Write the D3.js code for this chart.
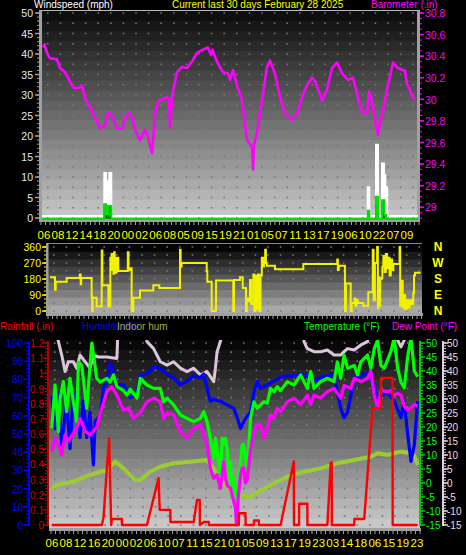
<!DOCTYPE html>
<html><head><meta charset="utf-8">
<script src="https://cdn.jsdelivr.net/npm/d3@7/dist/d3.min.js"></script>
<style>
html,body{margin:0;padding:0;background:#000;}
svg{display:block;}
text{font-family:"Liberation Sans",Arial,sans-serif;}
</style></head>
<body><svg id="chart" width="466" height="555"></svg>
<script>
// ---------------- DATA ----------------
const chartTitle = "Current last 30 days February 28 2025";
const topHourLabels = ["06","08","12","14","18","20","00","02","06","08","05","09","15","19","21","01","05","07","11","13","17","19","06","10","22","07","09"];
const bottomHourLabels = ["06","08","12","16","20","00","02","06","10","07","11","15","21","01","05","09","13","17","19","23","03","14","18","06","15","19","23"];
const windTicks = [0,5,10,15,20,25,30,35,40,45,50];
const baroTicks = [29,29.2,29.4,29.6,29.8,30,30.2,30.4,30.6,30.8];
const dirTicks = [0,90,180,270,360];
const compassLabels = ["N","E","S","W","N"];
const humTicks = [0,10,20,30,40,50,60,70,80,90,100];
const rainTicks = [0,0.1,0.2,0.3,0.4,0.5,0.6,0.7,0.8,0.9,1,1.1,1.2];
const tempTicks = [-15,-10,-5,0,5,10,15,20,25,30,35,40,45,50];

// [day, value]
const barometer = [[0.08,30.48],[0.2,30.51],[0.40,30.43],[0.64,30.38],[1.20,30.37],[1.44,30.29],[1.84,30.25],[2.07,30.20],[2.39,30.13],[2.63,30.10],[3.03,30.11],[3.19,30.13],[3.43,30.01],[3.83,29.93],[4.07,29.87],[4.39,29.79],[4.63,29.73],[5.03,29.76],[5.27,29.88],[5.59,29.85],[5.98,29.73],[6.38,29.73],[6.62,29.83],[6.86,29.87],[7.18,29.84],[7.42,29.72],[7.82,29.62],[8.22,29.72],[8.46,29.65],[8.78,29.50],[9.02,29.87],[9.26,29.98],[9.97,30.02],[10.13,30.00],[10.21,29.74],[10.37,30.02],[10.77,30.25],[11.17,30.30],[11.57,30.29],[11.97,30.35],[12.37,30.43],[12.85,30.46],[13.24,30.48],[13.49,30.41],[13.60,30.46],[13.96,30.35],[14.44,30.25],[14.84,30.24],[15.00,30.18],[15.24,30.27],[15.56,30.13],[15.96,29.99],[16.36,29.62],[16.76,29.56],[16.84,29.35],[16.92,29.58],[17.15,29.69],[17.55,29.99],[17.95,30.30],[18.19,30.36],[18.59,30.24],[18.99,30.02],[19.39,29.87],[19.95,29.81],[20.35,29.87],[20.75,30.02],[21.14,30.13],[21.54,30.20],[21.78,30.17],[22.34,29.99],[22.74,30.09],[23.14,30.29],[23.54,30.34],[23.94,30.24],[24.42,30.18],[24.81,30.20],[25.21,30.02],[25.53,29.88],[25.93,29.87],[26.09,30.07],[26.33,29.99],[26.57,29.81],[26.81,29.67],[26.97,29.79],[27.21,29.90],[27.53,30.09],[28.01,30.34],[28.40,30.29],[28.80,30.27],[28.96,30.27],[29.12,30.14],[29.36,30.09],[29.52,30.03],[29.76,30.00]];

const windGust = [[0,0],[4.97,10.5],[5.11,8.5],[5.37,10.5],[5.53,0],[25.99,7],[26.11,0],[26.65,17.4],[26.81,0],[27.13,12.8],[27.29,10],[27.39,7],[27.55,0],[30,0]];
const windAvg = [[0,0],[4.95,3.6],[5.11,1.2],[5.27,3.2],[5.53,0],[25.99,2],[26.11,0],[26.65,5.4],[26.81,0],[27.13,4.6],[27.33,1],[27.45,0],[30,0]];

const windDir = [[0.16,190],[0.56,120],[0.62,165],[1.50,185],[2.55,205],[2.62,150],[2.66,185],[3.50,80],[3.54,0],[3.58,75],[3.90,25],[4.31,340],[4.36,145],[4.84,25],[5.0,300],[5.05,250],[5.10,320],[5.15,230],[5.20,300],[5.25,210],[5.30,330],[5.35,240],[5.40,280],[5.45,215],[5.50,300],[5.64,225],[6.40,330],[6.46,230],[6.60,240],[6.71,0],[6.84,75],[7.38,115],[8.45,145],[8.93,130],[10.59,345],[10.64,250],[10.72,270],[12.73,225],[12.78,165],[13.13,0],[13.48,172],[14.86,0],[14.92,175],[15.40,190],[15.62,130],[15.88,0],[15.95,60],[16.0,70],[16.07,55],[16.20,175],[16.30,40],[16.47,205],[16.55,0],[16.65,200],[16.75,10],[16.85,205],[16.95,0],[17.05,200],[17.15,300],[17.27,250],[17.32,270],[17.42,345],[17.48,270],[17.54,255],[18.21,235],[20.48,265],[23.20,290],[23.25,230],[23.32,255],[23.82,0],[23.90,155],[24.28,0],[24.36,45],[24.60,70],[24.66,30],[24.75,60],[24.85,45],[25.29,30],[25.69,105],[26.05,345],[26.12,60],[26.22,270],[26.40,360],[26.46,15],[26.52,190],[26.58,30],[26.65,180],[26.76,185],[26.82,250],[26.9,310],[27.0,220],[27.1,320],[27.2,240],[27.3,300],[27.4,200],[27.5,290],[27.6,230],[27.70,265],[28.20,360],[28.25,30],[28.35,170],[28.45,20],[28.55,90],[28.65,10],[28.75,60],[28.85,20],[29.0,60],[29.15,40],[29.30,100],[29.36,200],[29.44,215],[29.90,215]];

const rainfall = [[0.22,0],[4.27,0],[4.41,0.05],[4.68,0.375],[4.86,0.57],[5.03,0],[5.08,0.04],[5.89,0.04],[5.90,0],[7.92,0],[8.59,0.22],[8.86,0.31],[8.95,0.1],[9.81,0.1],[9.82,0.02],[11.70,0.02],[11.97,0.165],[12.19,0.165],[12.20,0],[12.51,0.02],[12.92,0.02],[12.93,0],[15.35,0],[15.36,0.077],[15.89,0.077],[15.90,0],[16.57,0],[16.58,0.03],[16.97,0.03],[16.98,0],[18.73,0],[19.80,0.42],[19.81,0],[20.22,0],[20.23,0.14],[20.89,0.14],[20.90,0],[22.51,0],[22.78,0.41],[22.86,0.41],[22.87,0],[24.68,0],[24.69,0.04],[25.49,0.04],[26.16,0.77],[26.84,0.77],[26.85,0.97],[27.78,0.97],[27.79,0],[29.81,0]];

const humidity = [[0.22,71],[0.49,53],[0.76,73],[1.03,44],[1.43,68],[1.70,42],[1.97,71],[2.24,73],[2.51,48],[2.78,68],[3.05,48],[3.32,62],[3.59,33],[3.73,57],[4.14,60],[4.41,75],[4.68,79],[4.95,89],[5.22,84],[5.49,77],[6.03,77],[6.57,70],[7.11,72],[7.38,82],[7.92,83],[8.19,85],[8.46,87],[9.00,86],[9.54,83],[10.08,81],[10.62,77],[11.16,79],[11.70,82],[12.24,81],[12.51,83],[12.78,75],[13.05,68],[13.32,69],[13.86,68],[14.41,66],[14.95,64],[15.22,59],[15.49,53],[15.76,57],[16.03,60],[16.30,62],[16.57,73],[16.84,79],[17.11,75],[17.65,77],[18.19,79],[18.73,81],[19.27,82],[19.81,82],[20.35,83],[20.89,82],[21.43,79],[21.97,81],[22.51,82],[23.05,83],[23.32,73],[23.59,64],[23.86,59],[24.14,62],[24.41,71],[24.68,81],[25.22,82],[25.76,84],[26.30,77],[26.57,68],[26.84,71],[27.38,73],[27.92,68],[28.46,59],[28.73,68],[29.00,50],[29.27,35],[29.54,44],[29.81,68]];

const temperature = [[0.22,19.5],[0.49,35],[0.76,18.3],[0.89,30],[1.16,36.2],[1.43,25.5],[1.70,37.4],[1.97,29],[2.24,21.9],[2.38,43.3],[2.65,42],[3.05,26.7],[3.46,50],[3.59,46],[3.86,37.4],[4.14,36],[4.68,37.4],[4.95,36],[5.22,38.6],[5.49,34.4],[6.03,33],[6.30,31.4],[6.57,33.5],[7.11,30.3],[7.38,37.4],[7.92,35],[8.46,33.8],[9.00,33.8],[9.27,29],[9.54,30.3],[10.08,27.9],[10.62,24.3],[11.16,23.1],[11.70,21.9],[12.24,23.1],[12.51,25.5],[12.78,21.9],[13.05,16],[13.32,8.8],[13.46,16],[13.59,12],[13.86,0.5],[14.00,16],[14.13,13.6],[14.27,16],[14.41,12],[14.55,2],[14.68,7.6],[14.82,-5],[14.95,1.7],[15.08,-2],[15.22,-11.4],[15.35,0],[15.49,7.6],[15.62,13.6],[15.76,13.6],[15.89,8],[16.03,5.3],[16.30,23.1],[16.57,29],[16.84,26.7],[17.11,27.9],[17.38,29],[17.65,28.5],[17.92,33.8],[18.19,32.6],[18.46,34.4],[18.73,33],[19.27,36.2],[19.81,35],[20.35,38.6],[20.89,33.8],[21.16,39.8],[21.43,33.8],[21.97,36.2],[22.51,37.4],[23.05,36.2],[23.32,43.3],[23.59,37.4],[23.86,45.7],[24.14,41],[24.68,42],[24.95,38.6],[25.22,43.3],[25.76,45.7],[26.03,41],[26.30,48],[26.57,51],[26.84,42],[27.11,41],[27.38,44],[27.65,47],[27.92,52],[28.19,41],[28.46,36],[28.73,34],[29.00,45],[29.27,52],[29.54,40],[29.81,38]];

const dewPoint = [[0.22,11.2],[0.49,16],[0.76,14],[1.03,10],[1.30,17.1],[1.57,15],[1.84,17],[2.24,19.5],[2.51,23.1],[2.92,18.5],[3.32,17.1],[3.86,20],[4.27,26.7],[4.68,32.6],[5.08,34.4],[5.49,31.4],[6.03,26],[6.43,26.7],[6.84,23.1],[7.38,25],[7.92,29],[8.46,30.3],[9.00,29],[9.27,23.1],[9.54,25],[10.08,24.3],[10.62,18.3],[11.16,16],[11.70,19.5],[12.24,20.7],[12.51,17],[12.78,13.6],[13.05,5.3],[13.32,1.7],[13.59,3],[13.86,-1.9],[14.00,3],[14.13,7.6],[14.27,2],[14.41,-1],[14.68,-1.9],[14.95,-6.7],[15.08,-9],[15.16,-15],[15.30,-5],[15.49,2.9],[15.62,5.3],[15.76,5.3],[15.89,0],[16.03,1],[16.30,12.4],[16.57,18.3],[16.84,20.7],[17.11,20.7],[17.38,16],[17.65,19.5],[17.92,24.3],[18.19,23.1],[18.46,26.7],[18.73,25.5],[19.27,29],[19.81,30.3],[20.35,28],[20.89,31.4],[21.16,28],[21.43,31.4],[21.97,30.3],[22.51,32.6],[23.05,33.8],[23.59,30.3],[23.86,34.8],[24.41,33.8],[24.68,37.4],[25.22,36.2],[25.76,37.4],[26.03,39.8],[26.30,31.4],[26.57,26.7],[26.84,33],[27.38,32.6],[27.65,33],[27.92,31.4],[28.19,32],[28.46,31.4],[28.73,27.5],[29.00,26],[29.27,26.7],[29.54,28],[29.81,27.5]];

const indoorHum = [[0.22,20.2],[0.62,22],[1.97,23.8],[3.32,27.5],[4.68,30.2],[5.35,34.8],[6.03,31.1],[6.97,24.7],[7.38,24.7],[8.19,29.3],[9.00,32],[10.08,33.9],[11.43,34.8],[12.78,35.7],[13.32,31],[14.00,23.8],[14.68,18.3],[15.22,15.6],[15.76,16.5],[16.03,14.7],[17.92,22],[19.27,26.5],[20.62,29.3],[21.97,31.1],[23.32,33.9],[24.68,35.7],[26.03,37.5],[26.57,39.4],[27.38,38.5],[28.46,40.3],[29.27,39.4],[29.54,38],[29.81,33]];

const indoorTemp = [[0.49,60],[0.76,50.5],[1.03,45.7],[1.30,39.8],[1.57,43.3],[1.97,43.3],[2.24,41],[2.51,45.7],[2.92,43.3],[3.32,41],[3.59,45.7],[4.00,45],[4.68,45],[5.49,44.5],[5.62,60],[7.80,60],[7.92,50.5],[8.46,48],[9.00,43.3],[9.54,42.1],[10.08,43.3],[10.62,41],[11.16,39.8],[11.70,41],[12.24,38.6],[12.78,39.8],[13.32,36.2],[13.46,41],[13.59,46.9],[13.86,50.5],[14.0,60],[20.5,60],[20.62,50.5],[20.89,48],[21.43,46.9],[21.97,46.9],[22.51,47.5],[23.05,45.7],[23.59,45.7],[23.86,46.9],[24.14,48],[24.68,47.5],[25.22,49.3],[25.76,50.5],[25.9,60],[28.0,55],[28.19,51],[28.46,48.6],[28.73,51],[29.0,55],[29.9,58]];

// ---------------- DRAW ----------------
const svg = d3.select("#chart");
const GREY = "#a0a0a0";

function bands(x0, x1, y0, y1, c0, c1, n) {
  const h = (y1 - y0) / n, ip = d3.interpolateRgb(c0, c1);
  svg.append("g").selectAll("rect").data(d3.range(n)).join("rect")
    .attr("x", x0).attr("width", x1 - x0)
    .attr("y", i => y0 + i * h).attr("height", h + 0.6)
    .attr("fill", i => ip(i / (n - 1)));
}
function dotRows(x0, x1, ys) {
  svg.append("g").selectAll("line").data(ys).join("line")
    .attr("x1", x0 + 5).attr("x2", x1).attr("y1", d => d).attr("y2", d => d)
    .attr("stroke", "#777").attr("stroke-width", 1.6).attr("stroke-dasharray", "1.6,11");
}
function vAxisTicks(x, dir, scale, minor, major, color) {
  const g = svg.append("g");
  minor.forEach(v => g.append("line").attr("x1", x).attr("x2", x + dir * 2)
    .attr("y1", scale(v)).attr("y2", scale(v)).attr("stroke", color).attr("stroke-width", 1));
  major.forEach(v => g.append("line").attr("x1", x).attr("x2", x + dir * 4)
    .attr("y1", scale(v)).attr("y2", scale(v)).attr("stroke", color).attr("stroke-width", 1.5));
}
function hBarTicks(x0, x1, y) {
  svg.append("rect").attr("x", x0).attr("y", y).attr("width", x1 - x0).attr("height", 3).attr("fill", GREY);
  const g = svg.append("g");
  d3.range(x0 + 2, x1, 4.5).forEach(x => g.append("line").attr("x1", x).attr("x2", x)
    .attr("y1", y + 3).attr("y2", y + 6).attr("stroke", GREY).attr("stroke-width", 1));
}
function label(x, y, t, color, anchor, size) {
  return svg.append("text").attr("x", x).attr("y", y).attr("fill", color)
    .attr("text-anchor", anchor || "start").attr("font-size", size || 10).text(t);
}

// ---- Titles ----
label(34, 7.6, "Windspeed (mph)", "#ffffff");
label(172, 7.6, chartTitle, "#ffff00");
label(371, 7.6, "Barometer (.in)", "#ff00ff");

// ---- TOP PANEL ----
const T = {x0: 42, x1: 418, y0: 11, y1: 219};
const xTop = d3.scaleLinear().domain([0, 30]).range([T.x0, T.x1]);
const yWind = d3.scaleLinear().domain([0, 50]).range([218, 13]);
const yBaro = d3.scaleLinear().domain([28.9, 30.8]).range([218, 13]);

bands(T.x0, T.x1, T.y0, T.y1, "#0e0e0e", "#c6c6c6", 21);
dotRows(T.x0, T.x1, d3.range(0, 50.1, 2.5).map(yWind));
svg.append("line").attr("x1", T.x0).attr("x2", T.x1 + 2).attr("y1", 10.5).attr("y2", 10.5).attr("stroke", "#bbb");
svg.append("rect").attr("x", 39).attr("y", 10).attr("width", 3).attr("height", 212).attr("fill", GREY);
svg.append("rect").attr("x", 417).attr("y", 10).attr("width", 3).attr("height", 212).attr("fill", GREY);
hBarTicks(39, 420, 219);
vAxisTicks(39, -1, yWind, d3.range(0, 51, 1), windTicks, GREY);
vAxisTicks(420, 1, yBaro, d3.range(28.9, 30.81, 0.05), baroTicks, "#ff00ff");
windTicks.forEach(v => label(33, yWind(v) + 4, String(v), "#e8e8e8", "end", 10.5));
baroTicks.forEach(v => label(425, yBaro(v) + 4.2, String(v), "#ff00ff", "start", 10.5));

// wind
const gArea = d3.area().curve(d3.curveStepAfter).x(d => xTop(d[0])).y0(yWind(0)).y1(d => yWind(d[1]));
const gLine = d3.line().curve(d3.curveStepAfter).x(d => xTop(d[0])).y(d => yWind(d[1]));
svg.append("path").datum(windGust).attr("d", gArea).attr("fill", "#ffffff").attr("transform", "translate(0,-2)");
svg.append("path").datum(windGust).attr("d", gLine).attr("fill", "none").attr("stroke", "#ffffff").attr("stroke-width", 2).attr("transform", "translate(0,-2)");
svg.append("path").datum(windAvg).attr("d", gArea).attr("fill", "#008a00").attr("transform", "translate(0,1)");
svg.append("path").datum(windAvg).attr("d", gLine).attr("fill", "none").attr("stroke", "#00e000").attr("stroke-width", 2).attr("transform", "translate(0,1)");

// barometer
svg.append("path").datum(barometer)
  .attr("d", d3.line().x(d => xTop(d[0])).y(d => yBaro(d[1])))
  .attr("fill", "none").attr("stroke", "#ff00ff").attr("stroke-width", 2.6).attr("stroke-linejoin", "round");

// top x labels
const topStep = 1.114;
topHourLabels.forEach((t, i) => label(xTop(0.16 + i * topStep), 238.5, t, "#ffff00", "middle", 11.5));

// ---- MIDDLE PANEL ----
const M = {x0: 48, x1: 422, y0: 244, y1: 313};
const xMid = d3.scaleLinear().domain([0, 30]).range([M.x0, M.x1]);
const yDir = d3.scaleLinear().domain([0, 360]).range([311, 247]);
bands(M.x0, M.x1, M.y0, M.y1, "#050505", "#a8a8a8", 9);
dotRows(M.x0, M.x1, d3.range(0, 361, 45).map(yDir));
svg.append("line").attr("x1", M.x0).attr("x2", M.x1).attr("y1", 243.5).attr("y2", 243.5).attr("stroke", "#888");
svg.append("rect").attr("x", 46).attr("y", 243).attr("width", 2.5).attr("height", 73).attr("fill", GREY);
hBarTicks(46, 423, 313);
vAxisTicks(46, -1, yDir, d3.range(0, 361, 22.5), dirTicks, "#ffff00");
dirTicks.forEach(v => label(41, yDir(v) + 4, String(v), "#ffff00", "end", 10.5));
compassLabels.forEach((t, i) => label(438, yDir(dirTicks[i]) + 4, t, "#ffff00", "middle", 12).attr("font-weight", "bold"));
svg.append("defs").append("clipPath").attr("id", "clipMid").append("rect")
  .attr("x", M.x0).attr("y", M.y0).attr("width", M.x1 - M.x0).attr("height", M.y1 - M.y0);
svg.append("path").datum(windDir).attr("clip-path", "url(#clipMid)")
  .attr("d", d3.line().curve(d3.curveStepAfter).x(d => xMid(d[0])).y(d => yDir(d[1])))
  .attr("fill", "none").attr("stroke", "#f2f200").attr("stroke-width", 2);

// ---- LEGEND ROW ----
label(0, 330, "Rainfall (.in)", "#ff0000");
label(82, 330, "Humidity (%)", "#0000ff");
label(117, 330, "Indoor hum", "#a0b040");
label(304, 330, "Temperature (°F)", "#00ff00");
label(392, 330, "Dew Point (°F)", "#ff00ff");

// ---- BOTTOM PANEL ----
const B = {x0: 49, x1: 420, y0: 340, y1: 528};
const xBot = d3.scaleLinear().domain([0, 30]).range([B.x0, B.x1]);
const yHum = d3.scaleLinear().domain([0, 100]).range([525, 343]);
const yRain = d3.scaleLinear().domain([0, 1.2]).range([525, 343]);
const yTemp = d3.scaleLinear().domain([-15, 50]).range([525, 343]);
bands(B.x0, B.x1, B.y0, B.y1, "#080808", "#c8c8c8", 19);
dotRows(B.x0, B.x1, d3.range(0, 101, 5).map(yHum));
hBarTicks(49, 421, 528);

// left axes
svg.append("line").attr("x1", 29).attr("x2", 29).attr("y1", 341).attr("y2", 526).attr("stroke", "#0000ff").attr("stroke-width", 2);
vAxisTicks(28, -1, yHum, d3.range(0, 101, 2), humTicks, "#0000ff");
humTicks.forEach(v => label(23, yHum(v) + 4, String(v), "#0000ff", "end", 10));
svg.append("line").attr("x1", 48).attr("x2", 48).attr("y1", 341).attr("y2", 526).attr("stroke", "#b00000").attr("stroke-width", 2);
vAxisTicks(47, -1, yRain, d3.range(0, 1.201, 0.02), rainTicks, "#b00000");
rainTicks.forEach(v => label(44, yRain(v) + 4, String(v), "#d00000", "end", 10));
// right axes
svg.append("line").attr("x1", 420).attr("x2", 420).attr("y1", 341).attr("y2", 526).attr("stroke", "#00d000").attr("stroke-width", 2);
vAxisTicks(421, 1, yTemp, d3.range(-15, 51, 1), tempTicks, "#00d000");
tempTicks.forEach(v => label(426, yTemp(v) + 4, String(v), "#00ff00", "start", 10));
svg.append("line").attr("x1", 443).attr("x2", 443).attr("y1", 341).attr("y2", 526).attr("stroke", "#e0d0e0").attr("stroke-width", 2);
vAxisTicks(444, 1, yTemp, d3.range(-15, 51, 1), tempTicks, "#e0d0e0");
tempTicks.forEach(v => label(447, yTemp(v) + 4, String(v), "#e8d8e8", "start", 10));

svg.select("defs").append("clipPath").attr("id", "clipBot").append("rect")
  .attr("x", B.x0).attr("y", B.y0).attr("width", B.x1 - B.x0).attr("height", B.y1 - B.y0);
const gB = svg.append("g").attr("clip-path", "url(#clipBot)");
function series(data, y, color, w, curve) {
  gB.append("path").datum(data)
    .attr("d", d3.line().curve(curve || d3.curveLinear).x(d => xBot(d[0])).y(d => y(d[1])))
    .attr("fill", "none").attr("stroke", color).attr("stroke-width", w).attr("stroke-linejoin", "round");
}
series(indoorTemp, yTemp, "#dcc4dc", 3);
series(indoorHum, yHum, "#9acd32", 4);
series(humidity, yHum, "#0000ff", 3.2);
series(temperature, yTemp, "#00ff00", 3.2);
series(dewPoint, yTemp, "#ff00ff", 3.2);
series(rainfall, yRain, "#ff0000", 2.4);

const botStep = 1.135;
bottomHourLabels.forEach((t, i) => label(xBot(0.24 + i * botStep), 547, t, "#ffff00", "middle", 11.5));
</script>
</body></html>
